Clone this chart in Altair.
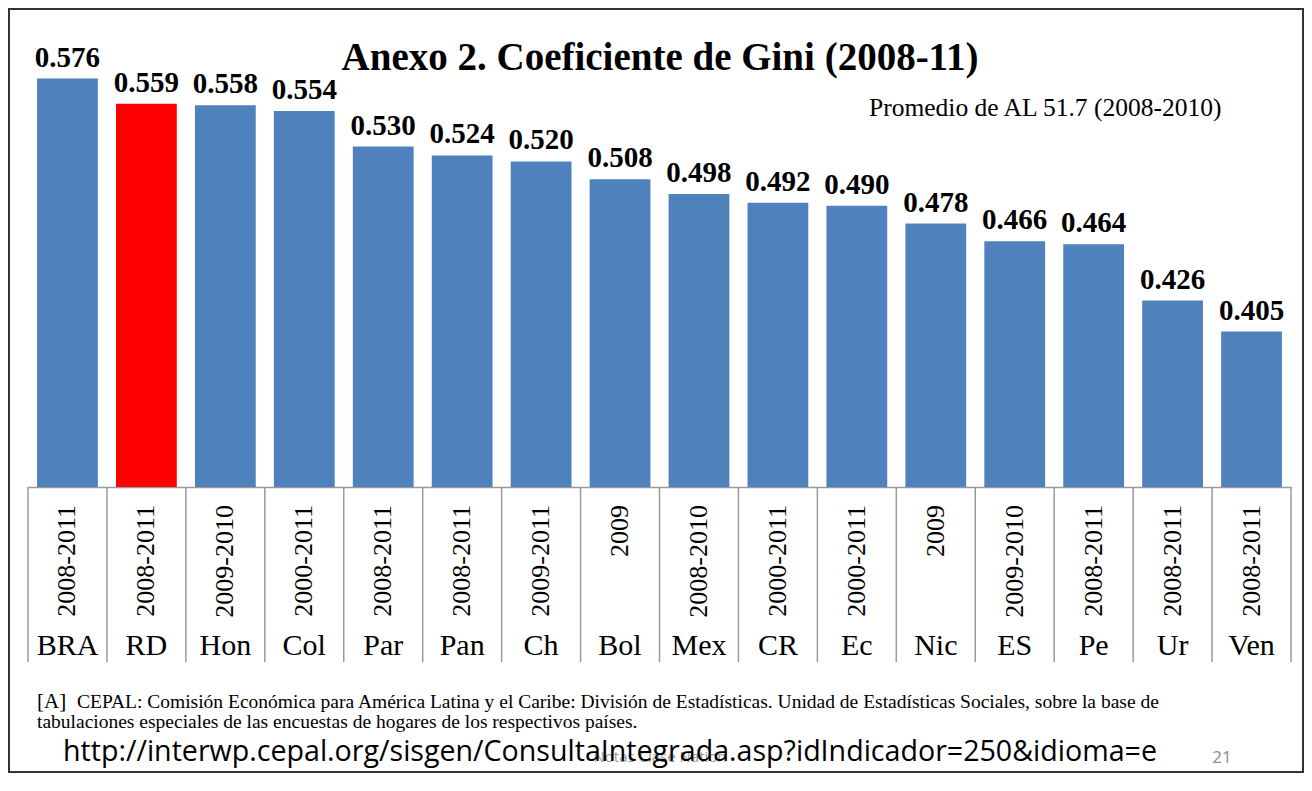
import altair as alt
import pandas as pd

countries = ["BRA", "RD", "Hon", "Col", "Par", "Pan", "Ch", "Bol", "Mex", "CR", "Ec", "Nic", "ES", "Pe", "Ur", "Ven"]
years = ["2008-2011", "2008-2011", "2009-2010", "2000-2011", "2008-2011", "2008-2011", "2009-2011", "2009",
         "2008-2010", "2000-2011", "2000-2011", "2009", "2009-2010", "2008-2011", "2008-2011", "2008-2011"]
gini = [0.576, 0.559, 0.558, 0.554, 0.530, 0.524, 0.520, 0.508, 0.498, 0.492, 0.490, 0.478, 0.466, 0.464, 0.426, 0.405]
highlight = ["RD"]
y_domain = [0.3, 0.6]

title_text = "Anexo 2. Coeficiente de Gini (2008-11)"
avg_text = "Promedio de AL 51.7 (2008-2010)"
note_tag = "[A]"
note_line1 = "CEPAL: Comisión Económica para América Latina y el Caribe: División de Estadísticas. Unidad de Estadísticas Sociales, sobre la base de"
note_line2 = "tabulaciones especiales de las encuestas de hogares de los respectivos países."
url_text = "http://interwp.cepal.org/sisgen/ConsultaIntegrada.asp?idIndicador=250&idioma=e"
watermark_text = "Notas Clase Nation"
page_text = "21"

df = pd.DataFrame({
    "country": countries,
    "years": years,
    "gini": gini,
    "group": ["hl" if c in highlight else "base" for c in countries],
})
one = pd.DataFrame({"k": [0]})

SERIF = "Liberation Serif"
SANS = "Open Sans"

xenc = alt.X("country:N", sort=countries,
             scale=alt.Scale(paddingInner=0, paddingOuter=0),
             axis=alt.Axis(labels=False, ticks=False, title=None, domainColor="#9a9a9a",
                           domainWidth=1.5, grid=False))

bars = alt.Chart(df).mark_bar(width=alt.RelativeBandSize(0.77)).encode(
    x=xenc,
    y=alt.Y("gini:Q", scale=alt.Scale(domain=y_domain, zero=False, nice=False), axis=None),
    y2=alt.datum(y_domain[0]),
    color=alt.Color("group:N", scale=alt.Scale(domain=["base", "hl"], range=["#4F81BD", "#FF0000"]), legend=None),
)

values = alt.Chart(df).mark_text(font=SERIF, fontWeight="bold", fontSize=29, baseline="alphabetic",
                                 dy=-12, color="black").encode(
    x=alt.X("country:N", sort=countries),
    y=alt.Y("gini:Q"),
    text=alt.Text("gini:Q", format=".3f"),
)

year_labels = alt.Chart(df).mark_text(font=SERIF, fontSize=26, angle=270, align="right",
                                      baseline="middle", color="black").encode(
    x=alt.X("country:N", sort=countries),
    y=alt.value(462),
    text="years:N",
)

country_labels = alt.Chart(df).mark_text(font=SERIF, fontSize=30, align="center",
                                         baseline="alphabetic", color="black").encode(
    x=alt.X("country:N", sort=countries),
    y=alt.value(612),
    text="country:N",
)

seps = alt.Chart(df).mark_rule(color="#9a9a9a", strokeWidth=1.5).encode(
    x=alt.X("country:N", sort=countries, bandPosition=0),
    y=alt.value(444),
    y2=alt.value(619),
)
last_sep = alt.Chart(df.tail(1)).mark_rule(color="#9a9a9a", strokeWidth=1.5).encode(
    x=alt.X("country:N", sort=countries, bandPosition=1),
    y=alt.value(444),
    y2=alt.value(619),
)

def txt(text, x, y, size, font=SERIF, weight="normal", align="left", color="black"):
    return alt.Chart(one).mark_text(font=font, fontSize=size, fontWeight=weight, align=align,
                                    baseline="alphabetic", color=color).encode(
        x=alt.value(x), y=alt.value(y), text=alt.value(text))

frame = alt.Chart(one).mark_rect(fill="white", fillOpacity=0, stroke="#333333", strokeWidth=2).encode(
    x=alt.value(-19), x2=alt.value(1275), y=alt.value(-34), y2=alt.value(729))

title = txt(title_text, 632, 27, 39, weight="bold", align="center")
avg = txt(avg_text, 841, 73, 25.5)
tag = txt(note_tag, 9, 665, 21)
n1 = txt(note_line1, 49, 665, 19.5)
n2 = txt(note_line2, 9, 685, 19.5)
wm = txt(watermark_text, 632, 719, 15, font=SANS, align="center", color="#9a9a9a")
url = txt(url_text, 35, 718, 28.6, font=SANS)
pg = txt(page_text, 1194, 720, 17, font=SANS, align="center", color="#8c8c8c")

chart = alt.layer(
    frame, seps, last_sep, bars, values, year_labels, country_labels,
    title, avg, tag, n1, n2, wm, url, pg,
).properties(
    width=1263, height=444,
    padding={"left": 20, "top": 35, "right": 13, "bottom": 287},
    autosize=alt.AutoSizeParams(type="none"),
    background="white",
).configure_view(strokeWidth=0)

chart.save("out.html", embed_options={"renderer": "svg", "actions": False})
